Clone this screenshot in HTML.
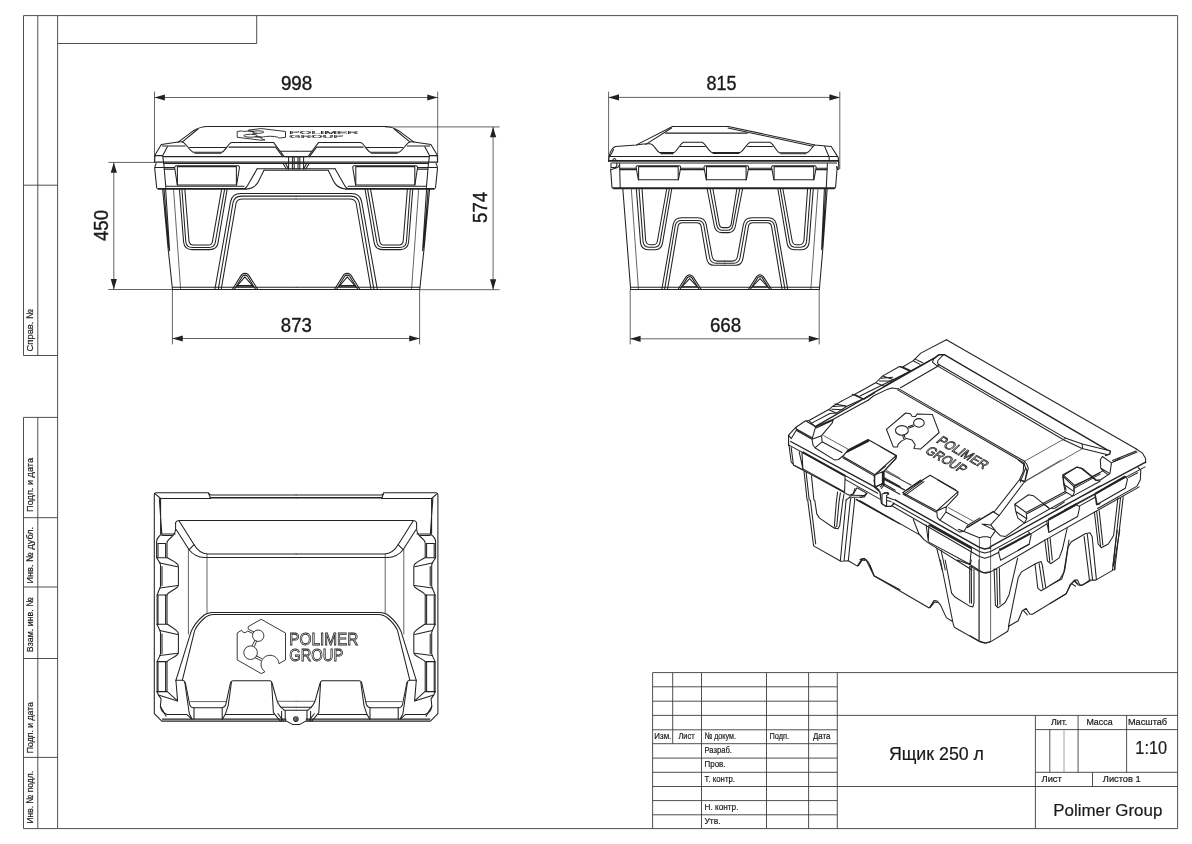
<!DOCTYPE html>
<html>
<head>
<meta charset="utf-8">
<title>Ящик 250 л</title>
<style>
html,body{margin:0;padding:0;background:#fff;}
body{width:1192px;height:844px;overflow:hidden;font-family:"Liberation Sans",sans-serif;}
svg{display:block;filter:grayscale(1);}
text{font-family:"Liberation Sans",sans-serif;fill:#1a1a1a;stroke:#1a1a1a;stroke-width:.2;}
.f{stroke:#3c3c3c;stroke-width:.9;fill:none;}
.fl{stroke:#9a9a9a;stroke-width:.9;fill:none;}
.d{stroke:#3c3c3c;stroke-width:.8;fill:none;}
.a{fill:#222;stroke:none;}
.o{stroke:#222;stroke-width:1.05;fill:none;stroke-linejoin:round;stroke-linecap:round;}
.t{stroke:#333;stroke-width:.75;fill:none;stroke-linejoin:round;stroke-linecap:round;}
.k2{stroke:#222;stroke-width:2.2;fill:none;stroke-linecap:butt;}
.k{stroke:#222;stroke-width:1.4;fill:none;stroke-linejoin:round;stroke-linecap:round;}
.lg{stroke:#222;stroke-width:.9;fill:none;stroke-linejoin:round;vector-effect:non-scaling-stroke;}
.lgt{fill:#fff;stroke:#222;stroke-width:.8;vector-effect:non-scaling-stroke;}
.dim{font-size:19.8px;stroke-width:.4;}
.s{font-size:9.8px;}
.c{font-size:9.3px;}
</style>
</head>
<body>
<svg width="1192" height="844" viewBox="0 0 1192 844">
<rect x="0" y="0" width="1192" height="844" fill="#fff"/>

<!-- ===== FRAME ===== -->
<g id="frame">
<path class="f" d="M57.6,15.6 H1177.6 V828.6 H57.6 Z"/>
<path class="f" d="M23.5,15.6 H57.6 M23.5,15.6 V355.5 H57.6 M37.8,15.6 V355.5 M23.5,185.2 H57.6"/>
<path class="f" d="M57.6,43.5 H256.7 V15.6"/>
<path class="f" d="M23.5,417.4 H57.6 M23.5,417.4 V828.6 H57.6 M37.8,417.4 V828.6 M23.5,517.7 H57.6 M23.5,587 H57.6 M23.5,658.5 H57.6 M23.5,757.4 H57.6"/>
<g class="s">
<text transform="translate(33.2,351.4) rotate(-90)" textLength="42.5" lengthAdjust="spacingAndGlyphs">Справ. №</text>
<text transform="translate(33.2,511.9) rotate(-90)" textLength="53.9" lengthAdjust="spacingAndGlyphs">Подп. и дата</text>
<text transform="translate(33.2,583.5) rotate(-90)" textLength="56.6" lengthAdjust="spacingAndGlyphs">Инв. № дубл.</text>
<text transform="translate(33.2,652.2) rotate(-90)" textLength="54.9" lengthAdjust="spacingAndGlyphs">Взам. инв. №</text>
<text transform="translate(33.2,753.2) rotate(-90)" textLength="51.1" lengthAdjust="spacingAndGlyphs">Подп. и дата</text>
<text transform="translate(33.2,823.5) rotate(-90)" textLength="52.5" lengthAdjust="spacingAndGlyphs">Инв. № подл.</text>
</g>
</g>

<!-- ===== TITLE BLOCK ===== -->
<g id="title">
<path class="f" d="M652.6,828.6 V672.6 H1177.6"/>
<path class="f" d="M672.7,672.6 V743.7 M701.5,672.6 V828.6 M766.5,672.6 V828.6 M808.6,672.6 V828.6 M837.3,672.6 V828.6"/>
<path class="f" d="M652.6,686.8 H837.3 M652.6,701.2 H837.3 M652.6,715.4 H1177.6 M652.6,729.8 H837.3 M652.6,743.7 H837.3 M652.6,758.1 H837.3 M652.6,772.3 H837.3 M652.6,786.5 H1177.6 M652.6,800.6 H837.3 M652.6,814.8 H837.3"/>
<path class="f" d="M1035.4,715.4 V828.6 M1035.4,729.6 H1177.6 M1035.4,772.3 H1177.6 M1049.8,729.6 V772.3 M1078.1,715.4 V772.3 M1126.6,715.4 V772.3 M1092.5,772.3 V786.5"/>
<path class="fl" d="M1064,729.6 V772.3"/>
<g class="c">
<text x="654.3" y="738.7" textLength="17" lengthAdjust="spacingAndGlyphs">Изм.</text>
<text x="678.5" y="738.7" textLength="16" lengthAdjust="spacingAndGlyphs">Лист</text>
<text x="704.5" y="738.7" textLength="31.5" lengthAdjust="spacingAndGlyphs">№ докум.</text>
<text x="769.5" y="738.7" textLength="19.5" lengthAdjust="spacingAndGlyphs">Подп.</text>
<text x="813" y="738.7" textLength="17.5" lengthAdjust="spacingAndGlyphs">Дата</text>
<text x="704.5" y="753.1" textLength="27.5" lengthAdjust="spacingAndGlyphs">Разраб.</text>
<text x="704.5" y="767.4" textLength="21" lengthAdjust="spacingAndGlyphs">Пров.</text>
<text x="704.5" y="781.5" textLength="30.5" lengthAdjust="spacingAndGlyphs">Т. контр.</text>
<text x="704.5" y="809.9" textLength="34" lengthAdjust="spacingAndGlyphs">Н. контр.</text>
<text x="704.5" y="824.1" textLength="16" lengthAdjust="spacingAndGlyphs">Утв.</text>
</g>
<text x="1050.9" y="725.1" font-size="9" textLength="16.3" lengthAdjust="spacingAndGlyphs">Лит.</text>
<text x="1086.4" y="725.1" font-size="9" textLength="26.2" lengthAdjust="spacingAndGlyphs">Масса</text>
<text x="1127.9" y="725.1" font-size="9" textLength="39.2" lengthAdjust="spacingAndGlyphs">Масштаб</text>
<text x="1041.5" y="781.6" font-size="9" textLength="20.3" lengthAdjust="spacingAndGlyphs">Лист</text>
<text x="1102.8" y="781.6" font-size="9" textLength="37.9" lengthAdjust="spacingAndGlyphs">Листов 1</text>
<text x="1135.3" y="753.8" font-size="17.6" textLength="31.8" lengthAdjust="spacingAndGlyphs">1:10</text>
<text x="1053.3" y="815.5" font-size="17.3" textLength="109" lengthAdjust="spacingAndGlyphs">Polimer Group</text>
<text x="888.9" y="759.9" font-size="17.6" textLength="95.1" lengthAdjust="spacingAndGlyphs">Ящик 250 л</text>
</g>

<!-- ===== DIMENSIONS ===== -->
<g id="dims">
<!-- 998 -->
<path class="d" d="M154.5,91.6 V161.7 M437.7,91.6 V161.7 M154.5,97.5 H437.7"/>
<path class="a" d="M154.5,97.5 l10.4,-3.1 v6.2 z M437.7,97.5 l-10.4,-3.1 v6.2 z"/>
<text class="dim" x="296.6" y="90.3" text-anchor="middle" textLength="31.4" lengthAdjust="spacingAndGlyphs">998</text>
<!-- 873 -->
<path class="d" d="M172.4,289 V344.4 M419.6,289 V344.4 M172.4,338.5 H419.6"/>
<path class="a" d="M172.4,338.5 l10.4,-3.1 v6.2 z M419.6,338.5 l-10.4,-3.1 v6.2 z"/>
<text class="dim" x="296.3" y="331.8" text-anchor="middle" textLength="31" lengthAdjust="spacingAndGlyphs">873</text>
<!-- 450 -->
<path class="d" d="M108.4,162.4 H155 M108.4,289.5 H172.4 M113.8,162.4 V289.5"/>
<path class="a" d="M113.8,162.4 l-3.1,10.4 h6.2 z M113.8,289.5 l-3.1,-10.4 h6.2 z"/>
<text class="dim" transform="translate(107.8,225.5) rotate(-90)" text-anchor="middle" textLength="31" lengthAdjust="spacingAndGlyphs">450</text>
<!-- 574 -->
<path class="d" d="M385,126.9 H499.6 M420,289.7 H499.6 M493.1,126.9 V289.7"/>
<path class="a" d="M493.1,126.9 l-3.1,10.4 h6.2 z M493.1,289.7 l-3.1,-10.4 h6.2 z"/>
<text class="dim" transform="translate(486.8,207.4) rotate(-90)" text-anchor="middle" textLength="31" lengthAdjust="spacingAndGlyphs">574</text>
<!-- 815 -->
<path class="d" d="M608.6,91.6 V161 M839.8,91.6 V169 M608.6,97.4 H839.8"/>
<path class="a" d="M608.6,97.4 l10.4,-3.1 v6.2 z M839.8,97.4 l-10.4,-3.1 v6.2 z"/>
<text class="dim" x="721.5" y="90.3" text-anchor="middle" textLength="30" lengthAdjust="spacingAndGlyphs">815</text>
<!-- 668 -->
<path class="d" d="M630.2,289 V344.4 M819.2,289 V344.4 M630.2,338.8 H819.2"/>
<path class="a" d="M630.2,338.8 l10.4,-3.1 v6.2 z M819.2,338.8 l-10.4,-3.1 v6.2 z"/>
<text class="dim" x="725.6" y="331.8" text-anchor="middle" textLength="31.3" lengthAdjust="spacingAndGlyphs">668</text>
</g>

<!--FRONT_START-->
<!-- ===== FRONT VIEW ===== -->
<g id="front">
<defs>
<g id="fh">
<!-- lid -->
<path class="o" d="M296.1,126.5 H207.5 C201.5,126.6 197.5,128.2 193.6,130.7 L178.2,142.1 L161.3,144.5 L155,154.9 L154.6,162.2"/>
<path class="o" d="M198,129 L182.4,141.9"/>
<path class="o" d="M178.2,142.1 C180,141.6 182.5,141.6 184,142.8 C187,145 189.5,150.6 193.4,152.2 H222.1 C225,150.6 227.5,145.5 230,143.3 C230.6,142.6 231.2,142.4 232.2,142.4 H273.5 L283.6,155.8 Q284.4,156.6 286,156.6 H296.1"/>
<path class="o" d="M195,153.3 H221"/>
<path class="o" d="M162.4,145.9 H185 M189.6,147.5 H225.8 M229,147.1 H275.6 L282.8,156.6"/>
<path class="o" d="M167.4,146.8 L162.7,155.6 L163.6,162.8 M155,155.6 H162.7"/>
<path class="o" d="M163.4,156.6 H296.1 M154.6,162.1 H296.1 M163.6,163.5 H296.1"/>
<path class="o" d="M280.4,151.2 H296.1"/>
<path class="o" d="M288.6,157.2 V169.2 M292.4,157.2 V169.2 M294.2,157.2 V169.2"/>
<path class="o" d="M283,163.5 L286.5,169 M285.6,163.5 L288.4,168.8"/>
<!-- body rim -->
<path class="o" d="M156.2,163.6 C155,165 154.7,166.5 154.7,168.4 L156.7,187.9 Q156.9,188.4 158,188.4 H245.5"/>
<path class="o" d="M158,189.1 H246.4"/>
<path class="o" d="M163.8,163.7 L165.8,187.4 M155,167.4 H174.4 M164.1,169.1 H174.6 M166,186.2 H244"/>
<!-- handle recess -->
<path class="o" d="M176.4,165.8 H238 Q239.8,166 239.4,168 L236.6,184.9 H177.3 L174.7,168 Q174.4,166 176.4,165.8 Z"/>
<path class="o" d="M177.4,166.6 H236.4 V184.9 M177.4,166.6 V184.9"/>
<!-- wing -->
<path class="o" d="M257.3,168.6 L249,183 Q247,187 245.2,188.2 M264,170.3 L257.7,182.9 Q254,188.3 246.4,189.1"/>
<path class="o" d="M257.3,168.7 H296.1 M264,170.3 H296.1"/>
<!-- ribs -->
<path class="o" d="M162.6,188.8 L168,247.4 L172.4,288.7 M164,188.8 L168.6,247.8 M165.6,188.8 L169.6,250.6"/>
<path class="t" d="M173.5,188.8 L180.6,288.7"/>
<path class="o" d="M179.4,188.8 L183.6,242 Q184.4,249.6 192,249.6 H209.6 Q217,249.6 218,242.9 L227.2,188.8"/>
<path class="o" d="M181.9,188.8 L185.8,242 Q186.6,247.4 192.5,247.4 H209 Q214.5,247.4 215.4,242 L224.7,188.8"/>
<path class="o" d="M184.8,188.8 L189,241.2 Q189.6,245 193.2,245 H208.4 Q212,245 212.5,241.2 L221.7,188.8"/>
<!-- central panel -->
<path class="o" d="M215,288.7 L230.5,201.8 Q232,193.4 240.8,193.4 H296.1"/>
<path class="o" d="M218.4,288.7 L233,202.6 Q234.4,196.1 241.5,196.1 H296.1"/>
<path class="o" d="M221.3,288.7 L236,203.5 Q237,199 242.5,199 H296.1"/>
<!-- base -->
<path class="o" d="M172.4,287.3 H296.1 M172.4,289.5 H296.1"/>
<!-- foot -->
<path class="o" d="M232.6,289 L241.6,274.6 Q245,272.2 248.4,274.6 L257.5,289 M234.6,289 L242.8,275.8 Q245,274.4 247.2,275.8 L255.4,289"/>
<path class="o" d="M236.4,286.7 L244.9,276.8 L253.3,286.7 Z M237.5,285.4 H252.2"/>
</g>
</defs>
<use href="#fh"/>
<use href="#fh" transform="translate(592.2,0) scale(-1,1)"/>
<use href="#logo" transform="translate(0,-4.6) scale(1,0.215)"/>
</g>
<!--FRONT_END-->
<!--SIDE_START-->
<!-- ===== SIDE VIEW ===== -->
<g id="side">
<!-- lid -->
<path class="o" d="M608.5,161.3 L609.3,155.8 Q611,148.2 615.5,146.5 L636.5,144.9 L672.5,126.5 H728.2 L814.9,144.9 L831.2,146.5 L838.3,157.6 L838.9,168.8 Q838.9,169.6 837.8,169.4 L836.4,166.6"/>
<path class="o" d="M645.8,144.4 L671.6,128 M728,128 L812.8,146.2"/>
<path class="o" d="M665.6,133.1 H747.4"/>
<path class="o" d="M636.5,144.9 C640,144.4 646,143.4 650.2,143.8 C654,144.4 656,150.6 659.6,152.6 H674 C677.6,150.6 679.4,144.4 683.4,142.3 H702.2 C706.2,144.4 708,150.4 711.6,152.4 H740.4 C744,150.4 746,144.4 750,142.3 H770 C774,144.4 775.6,150.6 779.2,152.8 H807 C810.4,151.4 812,146.6 814.9,144.9"/>
<path class="o" d="M661,153.6 H673 M713,153.4 H739 M780.6,153.8 H806"/>
<path class="o" d="M680.4,146.5 H705 M747.6,146.5 H772.4"/>
<path class="o" d="M609.3,156.4 H837.6 M608.5,161.3 H838.6 M612,162.9 H836.6 M609,160.4 H838.4"/>
<path class="o" d="M824.7,146.5 L829,156.9 L829.4,161.3 M613.6,149.6 L610,156.2"/>
<!-- hinge bits (left) -->
<path class="o" d="M612.6,160.6 Q613,158.4 614.4,158.4 Q615.8,158.4 616.2,160.6 M611,163 V167.4 H615.6 Q617.4,165.8 616.8,163 M611.4,169.6 L617.6,167.6 L619.6,165"/>
<!-- body rim -->
<path class="o" d="M610.6,168.9 L612,187.4 Q612.2,187.8 613,187.8 H834.6 Q835.6,187.8 835.6,187.2 L837.2,166.7"/>
<path class="o" d="M613,188.6 H834.6"/>
<path class="o" d="M619.6,163.4 L620.2,187.4 M827.4,163.4 L826.3,187.4"/>
<path class="o" d="M620,168.3 H636 M680.6,168.3 H703.8 M748.8,168.3 H771.4 M816.4,168.3 H827.2 M620,169.6 H636.4 M680.4,169.6 H704.2 M748.4,169.6 H771.8 M816,169.6 H827"/>
<g id="rc">
<path class="o" d="M637.6,165.7 H679.2 Q681,166 680.6,168 L678.4,179.8 H638.4 L636.2,168 Q635.8,166 637.6,165.7 Z"/>
<path class="o" d="M638.6,166.6 H678.2 V179.8 M638.6,166.6 V179.8"/>
</g>
<use href="#rc" x="67.9"/>
<use href="#rc" x="135.5"/>
<!-- body sides -->
<path class="o" d="M622.8,188.5 L630.6,288.8"/>
<path class="t" d="M631.3,188.5 L638.4,288.8 M818,188.5 L810.9,288.8"/>
<path class="o" d="M827.2,188.5 L823,246.8 L819.4,288.8 M825.8,188.5 L822.4,247 M824.4,188.5 L821.6,249.6"/>
<path class="o" d="M630.6,287.2 H819.4 M630.6,289.4 H819.4"/>
<defs>
<g id="sh">
<!-- U rib 1 -->
<path class="o" d="M636.3,188.5 L640.5,242.6 Q641.4,249.7 648,249.7 H655.4 Q661.6,249.7 662.6,242.6 L671.8,188.5"/>
<path class="o" d="M639,188.5 L643,241.4 Q643.8,247.2 648.8,247.2 H654.8 Q659.4,247.2 660.2,241.4 L669.4,188.5"/>
<path class="o" d="M642,188.5 L645.6,240 Q646.2,244.7 650,244.7 H653.6 Q657,244.7 657.6,240 L666.8,188.5"/>
<!-- W -->
<path class="o" d="M661.9,288.8 L673.2,224.4 Q674.6,217.7 681.4,217.7 H697.8 Q704.8,217.7 706.2,224.4 L712,256 Q712.8,261.1 717.4,261.1 H724.8"/>
<path class="o" d="M664.7,288.8 L675.4,225 Q676.6,220.5 681.8,220.5 H697.4 Q702.6,220.5 703.8,225 L709.4,257 Q710.4,263.2 716,263.2 H724.8"/>
<path class="o" d="M667.6,288.8 L678.2,225.6 Q679,222.7 682.6,222.7 H696.6 Q700.2,222.7 701,225.6 L706.5,257.8 Q707.6,265.3 714,265.3 H724.8"/>
<!-- foot -->
<path class="o" d="M678.2,289 L686.4,276.4 Q689.6,273.4 692.8,276.4 L701,289 M680.2,289 L687.6,277.4 Q689.6,275.8 691.6,277.4 L699,289"/>
<path class="o" d="M681.8,286.8 L689.6,278.6 L697.4,286.8 Z"/>
</g>
</defs>
<use href="#sh"/>
<use href="#sh" transform="translate(1449.6,0) scale(-1,1)"/>
<!-- center U rib -->
<path class="o" d="M707.1,188.5 L714.2,225.5 Q715.4,232.6 721.6,232.6 H728.6 Q734.4,232.6 735.5,225.5 L742.6,188.5"/>
<path class="o" d="M710,188.5 L716.8,224.8 Q717.8,230.2 722.4,230.2 H727.6 Q732,230.2 733,224.8 L739.8,188.5"/>
<path class="o" d="M712.8,188.5 L719.2,224.1 Q719.8,227.6 723,227.6 H727 Q730.4,227.6 731.2,224.1 L736.9,188.5"/>
</g>
<!--SIDE_END-->
<!--TOP_START-->
<!-- ===== TOP VIEW ===== -->
<g id="top">
<defs>
<g id="th">
<!-- outer -->
<path class="o" d="M296.1,494.9 H210.8 Q209,494.6 208.3,492.8 H156.2 Q154.3,492.8 154.3,494.8 V713.7 L161.8,721.1 H286.6 L292.3,724.4 H296.1"/>
<path class="k" d="M210.6,497.7 H296.1"/>
<path class="o" d="M160.6,498.5 H210.6 L208.6,493.2 M155,493.6 L160.6,498.5"/>
<path class="o" d="M160.6,498.5 V533.4 M159.3,498.5 L161.8,533.4"/>
<!-- wall -->
<path class="o" d="M161.8,534 H175.2 M162,535.4 H172.6"/>
<path class="o" d="M161.8,534 C159,536 156.6,539 156.6,542 V557.7 L159.9,562.9 L160.5,565 V586.4 L159.9,588 L157.1,595 V624.5 L159.9,630.5 L160.5,632.5 V653.6 L159.9,655.6 L157.1,661.6 V692 L158.4,694.9 L161.1,698.9 L160.4,706.3 L166.1,716.3"/>
<path class="o" d="M158,543.5 V557.5 M158,595.4 V624.3 M158,662 V692"/>
<path class="o" d="M175.6,522.7 V528.8 C175.6,533 174,535 171,537.5 C168.5,539.5 167,541 167,543 V557.5 C170,559.5 176.6,562 178,565 Q178.4,566 178.4,567 V585 Q178.4,586.5 177,587.5 C174,590 169,592 167,594.5 V624 C170,626 176.6,629.5 178,632.5 Q178.4,633.5 178.4,634.5 V652.5 Q178.4,654 177,655 C174,657.5 169,659.5 167,661.5 V691.4 L177.6,700.9 L175.9,680.2"/>
<path class="o" d="M165.6,543.5 V557.2 M165.6,595 V623.6 M165.6,662 V691.2"/>
<path class="o" d="M158,543.5 H165.6 M156.6,557.7 H167 M157.1,595 H167 M156.8,624.3 H167 M157.1,661.6 H167 M156.8,691.6 H166.8"/>
<path class="o" d="M159.9,562.9 L177.5,566.7 M159.9,588 L177.9,585.6 M159.9,630.5 L177.5,634.4 M159.9,655.6 L177.9,653.2"/>
<path class="o" d="M162,566.4 V585.6 M162,634 V653.4"/>
<path class="o" d="M158.4,694.9 L177.6,700.9"/>
<!-- raised panel -->
<path class="o" d="M296.1,520.5 H179.1 Q176.4,520.4 175.6,522.7"/>
<path class="o" d="M179.1,521 L194.1,544.7 Q199.4,553.6 207.6,554 H296.1"/>
<path class="o" d="M176.3,529.8 L189.1,549.7 Q195,557.2 204.7,557.5 H296.1"/>
<path class="o" d="M189.1,549.7 L194.1,544.7"/>
<path class="t" d="M188.4,549.7 V634 M207,554 V613"/>
<!-- lower panel -->
<path class="o" d="M296.1,612.5 H213 Q206.6,612.6 203,616 Q195,622.6 191,631.8 L176,680.2"/>
<path class="o" d="M296.1,614.5 H214 Q208,614.8 204.6,618 Q198,623.4 194.7,630.4 L182.4,680.2"/>
<!-- bottom -->
<path class="o" d="M175.9,680.2 H182.6 Q184.6,680.6 185.4,683 L189.6,704 Q190.2,707.4 193.3,707.7 H222.2 Q225,707.4 225.8,704.4 L230.4,683 Q231,680.9 233,680.8 H270.4 Q271.6,681 272.2,683.5 L276.6,699.4 Q278.4,706 284.4,710.3 H296.1"/>
<path class="o" d="M184.8,682.2 L189.3,713.7 L192,719.1 M231.4,682.4 L228.2,705.6 L225.5,713.7 L222.6,719.1 M271.6,682.2 L273.4,712.7 L280.2,720.9 M277.9,713.7 L283.3,720.6"/>
<path class="t" d="M190.6,701.6 H226.4 M277.3,701.3 H296.1"/>
<path class="o" d="M280.9,707.3 H296.1"/>
<path class="o" d="M194,707.7 V719.1 M222.2,707.7 V719.1 M281.6,711.2 V720.9 M285.2,710.6 V720.9"/>
<path class="o" d="M167.1,714.4 H186.6 L192,719.1 M225.5,714.4 H273.8 M162.4,719.1 H286"/>
<path class="o" d="M160.4,706.3 Q161.4,712.6 167.1,714.4"/>
</g>
</defs>
<use href="#th"/>
<use href="#th" transform="translate(592.2,0) scale(-1,1)"/>
<circle class="o" cx="295.9" cy="719.1" r="2.3"/>
<circle class="o" cx="295.9" cy="719.1" r="1.1"/>
<!-- logo -->
<g id="logo">
<path class="lg" d="M248.3,626.5 L261.2,619.3 L285.5,633 V659.9 L279,663.7 A9,9 0 1 0 265,671.7 L261.2,673.6 L237.2,659.9 V633 L241.5,630.3 Q242.2,632.2 244.1,632.6 Q246.2,632.6 247.6,631.1 L252.9,633.4 M248.3,626.5 Q247.8,628.6 248.7,629.6 L254,631.9"/>
<circle class="lg" cx="258.2" cy="635.7" r="5.7"/>
<circle class="lg" cx="250.6" cy="652.7" r="6.8"/>
<path class="lg" d="M254.8,640.2 L252.1,645.9 M256.7,640.9 L254.4,646.6 M255.9,655.7 L262.3,658.8 M254.8,657.6 L261.2,660.7"/>
<text class="lgt" x="289.2" y="644.6" font-size="16.4" textLength="69.2" lengthAdjust="spacingAndGlyphs">POLIMER</text>
<text class="lgt" x="289.2" y="661.4" font-size="16.4" textLength="54.1" lengthAdjust="spacingAndGlyphs">GROUP</text>
</g>

</g>
<!--TOP_END-->
<!--ISO_START-->
<!-- ===== ISO VIEW ===== -->
<g id="iso">
<path class="o" d="M788.5,445.3L788.5,435.2L796.0,427.2L805.6,420.8L809.0,420.5L830.1,408.7L832.8,406.2L841.9,400.9 M796.0,427.2L797.1,430.7L812.0,439.3L815.7,426.7L805.6,420.8 M796.0,428.8L811.6,437.5 M788.5,435.2L791.2,438.6L796.5,429.9 M815.7,426.7L833.3,419.2L832.3,422.9L821.6,435.7L812.0,439.3 M816.1,427.9L832.5,420.5 M812.0,439.3L813.1,445.3L815.2,448.0L834.4,459.9L838.5,459.5L842.9,456.0L848.3,449.6 M821.6,435.7L822.1,441.8L815.2,447.7 M822.1,441.8L841.9,452.5 M848.3,449.6L868.0,439.5L896.3,455.5L874.9,474.7L842.9,456.5L848.3,449.6 M847.2,451.2L868.3,440.3 M845.9,452.8L868.7,441.2"/>
<path class="o" d="M842.9,457.8L874.1,475.9 M874.9,474.7L874.5,486.9 M896.3,455.5L895.5,458.5L884.0,471.3L874.9,474.7 M884.0,471.3L882.4,473.8L882.4,484.3 M788.5,444.9L877.7,493.2 M892.7,502.8L979.4,551.5L984.8,553.1L990.6,551.5L1100.0,491.6 M845.6,479.6L879.9,499.1 M892.7,506.3L979.4,556.5L984.8,558.2L990.6,556.5L998.9,552.3 M788.5,436.4L788.7,445.5L789.1,446.0L791.2,462.0L793.9,465.2L802.9,469.7 M791.2,447.6L793.3,463.9 M799.2,451.9L802.9,468.9L801.9,451.9 M845.1,475.9L844.6,491.7"/>
<path class="o" d="M802.9,468.9L844.6,491.9 M793.9,465.4L802.9,470.1L845.1,493.1L849.3,495.3L853.6,493.8L857.0,487.8 M857.0,487.8L866.6,493.1L864.5,497.0L849.9,497.2L848.3,498.3 M804.0,471.1L807.1,500.0 M806.1,472.1L809.2,500.0 M811.5,475.9L813.9,500.0 M837.6,491.9L836.6,500.0 M840.4,492.9L839.3,500.0 M844.0,494.0L843.0,500.0 M848.3,498.3L846.1,500.0 M850.9,498.3L850.4,500.0 M854.7,498.3L854.7,500.0"/>
<path class="o" d="M856.3,499.3L893.1,520.0 M882.4,472.1L882.9,483.3L876.0,487.1 M882.9,476.9L900.0,486.5 M882.9,483.3L895.2,490.3 M807.7,500.0L813.6,545.9L840.8,561.3L848.3,560.8L857.3,566.1L862.1,558.5L865.9,559.5L873.9,575.7L900.0,589.8 M810.4,500.0L815.7,543.9 M858.4,565.6L862.3,559.9L865.1,560.4 M814.7,500.0L816.8,513.9L819.5,518.1L834.4,528.3L838.1,528.8L839.7,525.6L842.9,500.0 M836.5,500.0L834.4,525.6L835.5,527.9 M839.2,500.0L836.7,526.7 M846.1,500.0L840.3,561.3 M850.4,500.0L844.0,561.3"/>
<path class="o" d="M854.7,500.0L848.3,560.8 M856.8,500.0L900.0,524.0 M870.0,565.3L874.3,576.0L929.2,608.0L934.0,600.5L937.2,601.1L940.4,604.8L946.3,617.6L952.1,621.3 M930.3,607.5L934.5,602.1L937.0,602.5 M940.4,560.0L953.2,624.0L954.3,627.2L980.4,642.1L985.2,643.2L990.0,642.1 M945.2,560.0L951.6,593.1L955.3,597.3L969.2,605.9L972.9,606.9L974.0,602.7L974.0,569.6 M969.7,566.4L969.7,602.7 M971.3,566.4L971.5,603.2 M957.5,560.0L970.3,564.8L971.3,560.0 M970.3,564.8L983.1,572.8L990.0,571.7 M860.0,500.8L919.7,534.9L924.0,539.7L928.3,542.9L972.0,570.0 M913.3,519.5L918.7,533.3L924.0,539.7"/>
<path class="o" d="M866.4,493.9L862.1,497.1L860.0,497.1 M902.7,492.8L920.8,480.0 M903.9,494.1L922.4,480.9 M905.2,495.4L924.0,481.7 M937.9,480.0L958.1,491.7L936.8,510.9L902.7,492.8 M903.2,494.4L935.9,512.0 M936.8,510.9L937.3,517.3L940.0,520.3L959.7,532.1L964.0,531.2L967.7,525.3L980.0,517.9 M958.1,491.7L957.6,494.9L946.4,506.7L945.9,512.0L940.0,520.3 M946.4,506.7L936.8,510.9 M945.9,512.0L967.2,523.9 M926.1,524.8L928.3,541.3L928.8,525.3 M928.3,541.9L969.9,564.3L971.5,548.3"/>
<path class="o" d="M936.8,548.3L942.1,570.0 M941.1,550.4L945.3,570.0 M860.0,559.5L864.3,558.4L868.5,562.1L871.7,570.0 M873.9,480.0L874.9,486.4L879.2,490.1 M882.4,480.0L882.9,484.3L880.3,486.9 M860.0,391.5L876.0,382.5L882.4,376.1L899.5,366.5L902.7,367.0L913.3,360.6L920.8,353.1L946.4,339.8 M868.5,400.0L873.3,396.0L886.7,389.6L892.0,387.9L898.4,389.0 M900.5,387.8L937.3,366.5 M938.9,354.7L933.6,359.0L932.5,362.2L937.9,366.7 M860.0,396.0L909.1,371.8L930.4,360.1L934.7,357.9 M1065.1,437.9L1083.2,444.3L1106.7,450.1 M1064.0,440.0L1082.1,448.5L1106.7,454.4"/>
<path class="o" d="M1082.1,444.3L1082.7,448.5 M1024.5,461.3L1026.7,464.0L1028.3,468.3L1025.1,481.1 M1024.0,462.9L1025.6,468.3L1020.3,482.1 M1019.7,480.0L1025.1,482.1 M1062.9,474.7L1076.8,467.2L1081.1,468.3L1091.7,476.8L1096.0,480.5L1100.3,480.0L1109.9,473.6L1111.5,462.9L1102.4,456.5L1100.3,459.7L1100.8,468.3L1102.9,470.9L1091.7,476.8 M1062.9,474.7L1064.0,483.2L1066.1,490.0 M1064.0,475.7L1074.7,485.3L1073.6,490.0 M1074.7,485.3L1092.8,477.0 M1100.8,468.3L1109.9,473.6 M1102.4,456.5L1111.5,462.9L1120.0,458.5 M1102.9,470.9L1107.7,474.7 M1023.7,463.2L1026.9,470.7L1024.8,481.3L999.2,515.5"/>
<path class="o" d="M1018.4,460.0L1023.7,464.3L1023.2,471.7L1019.5,479.7L993.9,512.3 M1019.5,479.7L1024.8,481.3 M993.9,512.3L999.2,515.5 M993.3,511.6L999.2,515.5L990.7,524.9L982.1,524.0 M982.1,524.0L994.9,530.4L1000.3,535.7L1005.6,536.4L1024.3,523.1 M990.7,524.9L996.0,531.3 M1014.7,504.3L1028.5,494.7L1033.3,495.7L1046.1,505.9L1049.3,508.5L1054.7,508.2L1064.3,502.1 M1014.7,504.3L1026.1,512.5L1026.9,518.5L1024.3,522.9L1017.9,518.1L1015.7,511.2L1014.7,504.3 M1026.1,512.5L1065.3,491.5 M1027.5,513.5L1066.6,492.6 M1024.8,523.1L1072.3,496.1 M1016.3,511.7L1026.4,518.5"/>
<path class="o" d="M1044.0,503.9L1048.3,507.6 M1062.7,476.0L1077.1,466.9L1082.4,468.5L1093.6,477.6L1096.8,480.3L1100.0,480.1 M1062.7,476.0L1073.9,486.7L1074.4,492.0L1072.8,496.1L1065.3,491.8L1063.7,484.5L1062.7,476.0 M1073.9,486.7L1100.0,472.6 M1075.1,487.9L1100.0,474.1 M1072.8,496.1L1100.0,481.3 M1064.3,484.7L1074.1,491.6 M1028.0,531.5L1031.2,534.7L1029.1,544.3L1018.4,550.0 M1046.7,521.3L1048.8,532.5L1048.3,519.7 M1048.8,532.5L1077.6,516.5L1079.7,506.9L1076.5,504.3 M1031.2,533.6L1046.7,524.0 M1079.7,505.9L1095.2,497.3"/>
<path class="o" d="M1095.2,494.1L1097.3,504.8L1100.0,503.7 M1136.0,448.8L1142.4,453.1L1145.6,458.4L1145.6,462.7 M1145.1,466.9L1064.5,510.0 M1112.5,460.5L1136.0,450.9 M1113.6,461.8L1137.1,452.0 M1138.1,467.5L1140.8,470.1L1140.3,479.7L1137.1,486.1L1097.6,508.5 M1125.3,476.5L1127.5,479.2L1125.3,488.3L1096.5,504.8L1094.9,494.7 M1128.5,477.6L1137.6,472.8 M1044.8,539.7L1047.5,561.1L1050.7,563.7L1059.2,557.9L1062.4,549.3L1067.2,528.0 M1050.1,538.1L1052.3,560.0 M1047.5,538.7L1049.8,562.1 M1094.4,512.0L1098.1,544.0L1101.3,547.7L1108.3,544.0L1113.6,535.5L1117.9,498.1"/>
<path class="o" d="M1099.2,510.9L1102.9,545.1 M1096.7,511.5L1100.6,546.7 M1123.2,497.1L1114.7,570.0 M1120.5,498.1L1112.5,570.0 M1040.0,542.9L1139.2,486.9 M970.0,635.8L979.1,641.0L985.6,642.9L990.8,641.6L1007.8,631.2L1009.1,626.0L1018.2,620.8L1022.1,611.0L1026.0,608.4L1029.9,614.3L1032.5,614.3L1066.4,593.4L1070.3,584.3L1074.2,581.0L1078.1,585.0L1082.1,585.0L1090.0,581.0 M970.0,566.1L979.1,571.3L985.6,573.2L990.8,571.9L1043.0,541.3 M994.1,568.7L995.4,605.1L998.0,607.8L1005.2,602.5L1009.1,594.7L1017.6,558.2 M996.7,568.7L997.6,605.8 M999.3,568.0L1000.0,604.1 M1008.4,626.6L1018.2,577.8L1021.5,571.9L1035.8,563.5L1041.0,561.5L1042.3,564.8L1045.6,586.9 M1035.1,564.8L1037.8,588.2L1041.0,590.8L1045.6,588.2L1059.9,579.1L1063.8,572.6L1069.0,540.0"/>
<path class="o" d="M1039.1,563.5L1043.0,588.5 M1023.4,610.4L1027.3,614.9 M1071.6,583.6L1075.5,586.3 M1050.0,603.6L1066.0,594.0L1070.3,585.4L1074.5,580.1L1077.7,580.1L1079.9,585.4L1083.0,584.9L1089.4,580.1L1095.8,580.1L1115.0,568.9L1114.0,565.2L1119.8,530.0 M1117.2,530.0L1112.9,566.2 M1050.0,585.4L1061.7,579.0L1064.9,569.4L1068.1,547.1L1071.3,541.7L1085.2,533.7L1090.0,532.7L1092.1,536.4L1096.4,579.6 M1084.1,536.4L1089.4,579.6 M1087.3,534.3L1092.6,580.1 M1075.1,581.2L1077.9,583.8 M886.4,429.3L905.6,413.0L910.4,413.7L912.0,416.2L915.4,416.5L917.3,413.9L932.3,414.4L939.2,432.5L920.5,449.1L913.9,448.5L915.2,444.8L912.0,440.0L906.7,438.4L901.3,441.1L898.1,444.3L897.6,446.9L893.3,446.9L886.4,429.3 M908.3,426.7L913.1,425.1 M908.8,427.9L913.6,426.3"/>
<path class="o" d="M902.6,435.4L903.7,438.6 M904.1,435.0L905.2,438.2 M880.0,446.4L896.5,456.0L896.0,458.7L884.3,470.9L883.2,473.6L883.2,484.3 M906.7,490.0L930.1,475.2L955.7,490.0 M884.3,479.5L904.5,490.0 M874.2,475.7L874.9,486.3 M882.4,472.1L882.7,483.5L874.9,487.0 M884.1,471.4L884.1,484.9L881.3,488.5 M874.2,475.7L885.6,466.1 M884.1,478.5L904.8,489.9 M883.4,485.3L899.8,494.2 M855.0,488.5L852.8,494.9L850.0,496.3"/>
<path class="o" d="M852.8,495.2L864.2,495.6L867.1,493.4 M833.3,419.2L868.5,400.0 M841.9,400.9L860.0,391.5 M946.4,339.8L1136.0,448.8 M937.9,364.0L1065.1,437.9 M939.1,366.9L1064.0,440.0 M937.3,366.5L938.5,364.5 M943.3,354.9L937.9,360.5L937.5,362.5L939.1,366.9 M882.0,494.1L887.8,492.4L888.7,494.1L886.6,495.4L886.6,505.7 M882.0,494.1L882.0,503.2 M886.6,497.0L893.0,499.5L895.7,499.9 M886.6,500.5L891.0,501.5"/>
<path class="o" d="M979.4,537.8L983.2,536.7L987.3,536.7L990.6,537.8 M958.5,529.3L979.4,537.8 M990.6,537.8L994.8,531.6 M1029.1,544.3L1000.6,560.2L998.5,552.3L999.8,548.6 M828.8,409.7L836.3,413.1L846.9,406.3L835.2,403.9 M833.1,406.5L844.8,405.7 M831.8,409.3L842.7,409.7 M852.3,394.3L862.9,398.9L846.9,406.3 M855.5,394.8L864.0,399.3L874.7,392.9 M876.3,383.1L884.3,386.3L894.4,379.9L882.7,376.1 M881.1,378.3L892.8,377.2 M879.5,380.9L890.7,380.9"/>
<path class="o" d="M899.7,366.5L909.9,371.3L894.4,379.9 M902.9,367.1L910.9,370.8 M809.1,420.9L816.0,427.3 M810.7,423.6L829.9,413.5L836.3,413.1 M913.1,360.7L920.0,364.4 M915.2,359.1L922.7,362.8 M898.4,388.6L1024.5,461.3 M897.6,389.9L1024.0,462.9"/>
<path class="t" d="M823.7,435.7L848.3,449.3 M886.7,470.5L900.0,478.0 M978.8,560.0L978.8,639.5 M948.5,507.7L973.1,521.1 M1024.5,461.3L1065.1,438.4 M1025.1,481.6L1082.7,448.5 M1024.8,481.3L1061.1,460.0 M979.4,537.4L979.4,641.0 M990.6,537.4L990.6,641.6 M886.4,471.5L910.9,485.3 M884.1,471.0L911.2,484.9"/>
<path class="k" d="M790.7,441.5L874.2,486.7L880.0,492.0L881.5,503.5L886.0,506.4L891.0,506.4L894.0,503.6 M895.5,500.2L979.4,547.3L984.8,549.0L990.6,547.8 M861.6,400.0L873.9,392.6L934.7,357.9L938.9,354.7L944.3,354.7 M1106.7,449.6L1110.4,451.2L1109.9,453.9L1105.6,455.5 M990.1,546.9L1100.0,486.1 M1145.6,462.1L1056.0,510.0 M815.6,426.4L861.6,400.0 M944.3,354.7L1106.7,449.6 M884.5,492.6L888.3,493.4 M967.4,527.4L993.3,511.6"/>
<path class="k2" d="M802.6,452.1L845.1,475.9 M929.3,524.8L971.5,548.3 M1030.1,533.6L999.7,550.0 M1048.3,519.7L1076.5,504.3 M1125.3,476.5L1095.5,493.6"/>
<ellipse class="o" cx="901.9" cy="430.4" rx="6.4" ry="4.8"/>
<ellipse class="o" cx="918.9" cy="422.9" rx="5.3" ry="4.3"/>
<text transform="matrix(0.6936 0.393 -0.612 0.567 935.5 442.1)" x="0" y="0" font-size="16.4" textLength="69.2" lengthAdjust="spacingAndGlyphs" style="fill:#fff;stroke:#222;stroke-width:1">POLIMER</text>
<text transform="matrix(0.6936 0.393 -0.612 0.567 924.3 452.3)" x="0" y="0" font-size="16.4" textLength="54.1" lengthAdjust="spacingAndGlyphs" style="fill:#fff;stroke:#222;stroke-width:1">GROUP</text>

</g>
<!--ISO_END-->

</svg>
</body>
</html>
